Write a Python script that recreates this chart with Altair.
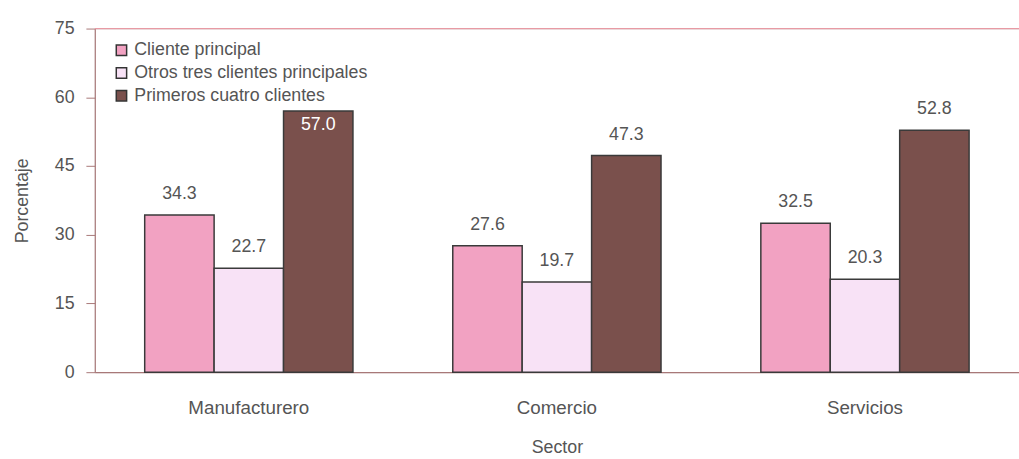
import altair as alt
import pandas as pd

sectores = ["Manufacturero", "Comercio", "Servicios"]
series = ["Cliente principal", "Otros tres clientes principales", "Primeros cuatro clientes"]
cliente_principal = [34.3, 27.6, 32.5]
otros_tres = [22.7, 19.7, 20.3]
primeros_cuatro = [57.0, 47.3, 52.8]
colores = ["#F2A2C2", "#F8E2F6", "#7A504C"]

rows = []
for i, s in enumerate(sectores):
    for serie, vals in zip(series, [cliente_principal, otros_tres, primeros_cuatro]):
        rows.append({"Sector": s, "Serie": serie, "Valor": vals[i], "Etiqueta": f"{vals[i]:.1f}"})
df = pd.DataFrame(rows)

FONT = "Liberation Sans"
GRAY = "#555555"
AXC = "#a87878"

x = alt.X("Sector:N", sort=sectores,
          scale=alt.Scale(paddingInner=0.324, paddingOuter=0.162),
          axis=alt.Axis(title="Sector", labelAngle=0, labelFontSize=19, titleFontSize=18,
                        labelColor=GRAY, titleColor=GRAY, labelPadding=27, titlePadding=21,
                        domainColor=AXC, domainWidth=1.2, ticks=False, labelFont=FONT,
                        titleFont=FONT, titleFontWeight="normal"))
y = alt.Y("Valor:Q", scale=alt.Scale(domain=[0, 75], nice=False),
          axis=alt.Axis(title="Porcentaje", values=[0, 15, 30, 45, 60, 75], tickSize=9,
                        tickColor=AXC, domainColor=AXC, domainWidth=1.2, labelFontSize=18,
                        titleFontSize=18, labelColor=GRAY, titleColor=GRAY, labelPadding=12,
                        titlePadding=23, grid=False, labelFont=FONT, titleFont=FONT,
                        titleFontWeight="normal"))
xo = alt.XOffset("Serie:N", sort=series, scale=alt.Scale(paddingInner=0, paddingOuter=0))

base = alt.Chart(df)

bars = base.mark_bar(stroke="#3a3a3a", strokeWidth=1.5).encode(
    x=x, y=y, xOffset=xo,
    color=alt.Color("Serie:N", sort=series,
                    scale=alt.Scale(domain=series, range=colores),
                    legend=alt.Legend(title=None, orient="none", legendX=18, legendY=13,
                                      symbolType="square", symbolSize=110,
                                      symbolStrokeColor="#333333", symbolStrokeWidth=1.5,
                                      labelFontSize=18, labelColor=GRAY, labelFont=FONT,
                                      labelLimit=0, rowPadding=5, labelOffset=4))
)

labels_out = base.transform_filter("datum.Valor < 55").mark_text(
    dy=-12, fontSize=18, color=GRAY, font=FONT, baseline="bottom").encode(
    x=alt.X("Sector:N", sort=sectores), y="Valor:Q", xOffset=xo, text="Etiqueta:N")

labels_in = base.transform_filter("datum.Valor >= 55").mark_text(
    dy=5, fontSize=18, color="white", font=FONT, baseline="top").encode(
    x=alt.X("Sector:N", sort=sectores), y="Valor:Q", xOffset=xo, text="Etiqueta:N")

top_line = alt.Chart(pd.DataFrame({"v": [75]})).mark_rule(color="#e89aa4", strokeWidth=1.2).encode(
    y="v:Q")

chart = alt.layer(bars, labels_out, labels_in, top_line).properties(
    width=936, height=348,
    autosize=alt.AutoSizeParams(type="none"),
    padding={"left": 96, "top": 26, "right": 0, "bottom": 85},
).configure_view(stroke=None).configure(background="white")

chart.save("out.html", embed_options={"renderer": "svg", "actions": False})
